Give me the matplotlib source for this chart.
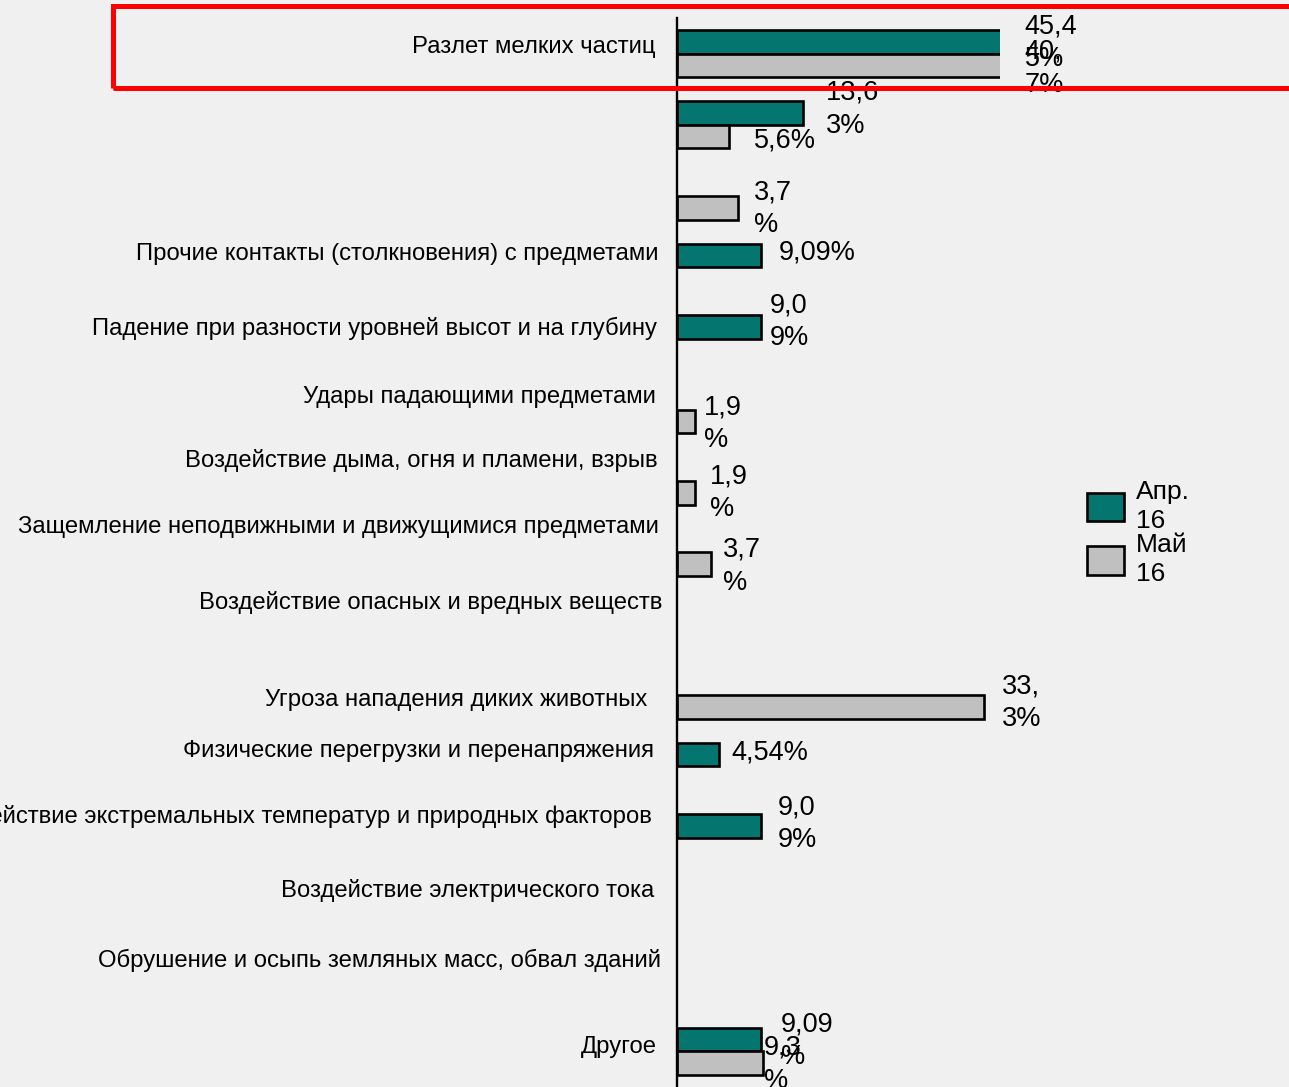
import numpy as np
import matplotlib
matplotlib.use("Agg")
import matplotlib.pyplot as plt
from matplotlib.patches import Rectangle, Patch

plt.rcParams['font.family'] = ['Liberation Sans', 'DejaVu Sans']

# данные
categories = [
    "Разлет мелких частиц",
    "",
    "",
    "Прочие контакты (столкновения) с предметами",
    "Падение при разности уровней высот и на глубину",
    "Удары падающими предметами",
    "Воздействие дыма, огня и пламени, взрыв",
    "Защемление неподвижными и движущимися предметами",
    "Воздействие опасных и вредных веществ",
    "Угроза нападения диких животных",
    "Физические перегрузки и перенапряжения",
    "Воздействие экстремальных температур и природных факторов",
    "Воздействие электрического тока",
    "Обрушение и осыпь земляных масс, обвал зданий",
    "Другое",
]
nan = np.nan
apr_values = [45.45, 13.63, nan, 9.09, 9.09, nan, nan, nan, nan, nan, 4.54, 9.09, nan, nan, 9.09]
may_values = [40.7, 5.6, 6.6, nan, nan, 1.9, 1.9, 3.7, nan, 33.3, nan, nan, nan, nan, 9.3]
apr_labels = ["45,4\n5%", "13,6\n3%", "", "9,09%", "9,0\n9%", "", "", "", "", "",
              "4,54%", "9,0\n9%", "", "", "9,09\n%"]
may_labels = ["40,\n7%", "5,6%", "3,7\n%", "", "", "1,9\n%", "1,9\n%", "3,7\n%", "",
              "33,\n3%", "", "", "", "", "9,3\n%"]
series_names = ["Апр.\n16", "Май\n16"]

# ручные сдвиги подписей (пиксели), как на слайде
cat_dx = [-21, 0, 0, -18, -20, -21, -19, -18, -15, -30, -23, -25, -23, -16, -20]
cat_dy = [-7, 0, 0, -13, -10, -13, -21, -25, -21, 5, -15, -21, -18, -20, -4]
apr_dx = [25, 23, 0, 18, 9, 0, 0, 0, 0, 0, 13, 17, 0, 0, 20]
apr_dy = [1, -4, 0, -3, -5, 0, 0, 0, 0, 0, -2, -2, 0, 0, 1]
may_dx = [25, 25, 16, 0, 0, 9, 15, 12, 0, 18, 0, 0, 0, 0, 1]
may_dy = [3, 4, 1, 0, 0, 2, 0, 2, 0, -4, 0, 0, 0, 0, 1]

TEAL = "#05756f"
GRAY = "#c0c0c0"
W, H = 1289, 1087
XMAX = 35

fig = plt.figure(figsize=(W / 100, H / 100), dpi=100, facecolor="#f0f0f0")
ax = fig.add_axes([677 / W, 0, XMAX * 9.22 / W, 1 - 18 / H])
ax.set_facecolor("none")

y = np.arange(len(categories))
h = 0.33
ax.barh(y - h / 2, apr_values, height=h, color=TEAL, edgecolor="black", linewidth=1.9)
ax.barh(y + h / 2, may_values, height=h, color=GRAY, edgecolor="black", linewidth=1.9)

ax.set_xlim(0, XMAX)
ax.set_ylim(len(categories) - 0.5, -0.5)
ax.set_xticks([])
ax.set_yticks([])
for s in ["top", "right", "bottom"]:
    ax.spines[s].set_visible(False)
ax.spines["left"].set_linewidth(1.7)

for i, cat in enumerate(categories):
    if cat:
        ax.annotate(cat, xy=(0, i), xycoords=("axes fraction", "data"),
                    xytext=(cat_dx[i], -cat_dy[i]), textcoords="offset pixels",
                    ha="right", va="center", fontsize=17.2, annotation_clip=False)


def value_labels(values, labels, offset, dxs, dys):
    for i, (v, lab) in enumerate(zip(values, labels)):
        if not lab:
            continue
        ax.annotate(lab, xy=(min(v, XMAX), i + offset),
                    xytext=(dxs[i], -dys[i]), textcoords="offset pixels",
                    ha="left", va="center", fontsize=19.5, linespacing=1.35,
                    annotation_clip=False)


value_labels(apr_values, apr_labels, -h / 2, apr_dx, apr_dy)
value_labels(may_values, may_labels, h / 2, may_dx, may_dy)

handles = [Patch(facecolor=TEAL, edgecolor="black", linewidth=1.9),
           Patch(facecolor=GRAY, edgecolor="black", linewidth=1.9)]
leg = ax.legend(handles, series_names, loc="center left",
                bbox_to_anchor=(1087 / W, 1 - 533 / H), bbox_transform=fig.transFigure,
                frameon=False, borderpad=0, borderaxespad=0, fontsize=19,
                handlelength=1.4, handleheight=1.3, labelspacing=-0.02, handletextpad=0.45)
for t in leg.get_texts():
    t.set_linespacing(1.3)

# красная рамка вокруг первой строки
fig.patches.append(Rectangle((113 / W, 1 - 88 / H), 1.0, (88 - 5.5) / H,
                             transform=fig.transFigure, fill=False,
                             edgecolor="red", linewidth=3.6))

fig.savefig("out.png", dpi=100, facecolor=fig.get_facecolor())
